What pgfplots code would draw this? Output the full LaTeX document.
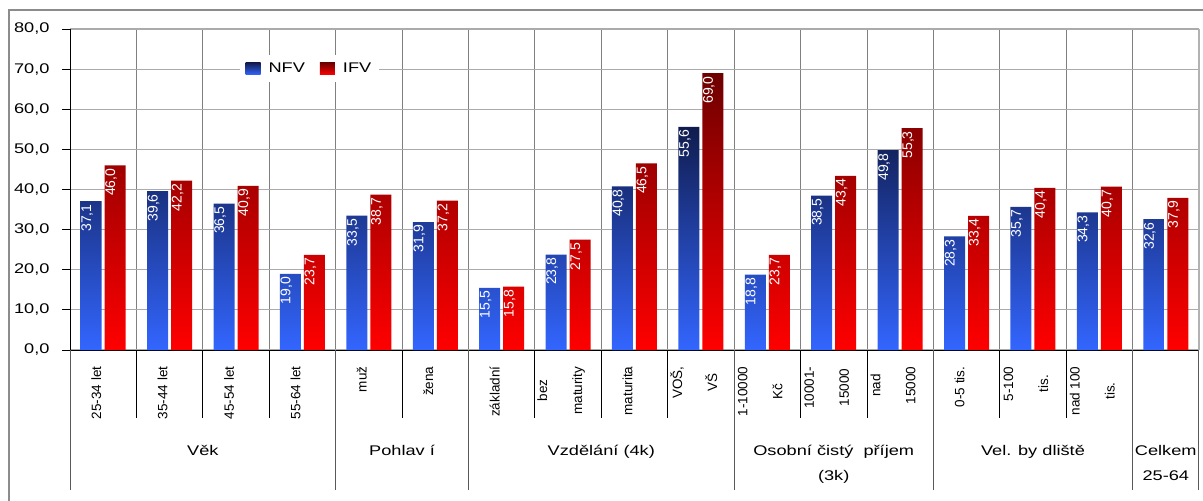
\documentclass[border=0pt]{standalone}
\usepackage{fontspec}
\setmainfont{Liberation Sans}
\newfontfamily\hfont[FakeStretch=1.3]{Liberation Sans}
\usepackage{graphicx}
\usepackage{pgfplots}
\pgfplotsset{compat=1.18}

\definecolor{nfvtop}{HTML}{101C4E}
\definecolor{nfvmid}{HTML}{2443AD}
\definecolor{nfvbot}{HTML}{3366FF}
\definecolor{ifvtop}{HTML}{6E0000}
\definecolor{ifvmid}{HTML}{B80000}
\definecolor{ifvbot}{HTML}{FF0000}

\begin{document}
\begin{tikzpicture}[x=1pt,y=1pt]
\path[use as bounding box] (0,0) rectangle (1203,501);
\begin{axis}[
  at={(70pt,151pt)}, anchor=south west,
  scale only axis, width=1129pt, height=321pt,
  xmin=0, xmax=17, ymin=0, ymax=80,
  clip=false,
  axis x line*=bottom, axis y line*=left,
  axis line style={black, line width=1pt},
  /pgf/number format/assume math mode=true,
  ytick={0,10,20,30,40,50,60,70,80},
  yticklabel={\hfont\fontsize{14}{16}\selectfont\pgfmathprintnumber[fixed,fixed zerofill,precision=1,use comma]{\tick}},
  yticklabel style={xshift=-9pt},
  xtick={0.5,1.5,2.5,3.5,4.5,5.5,6.5,7.5,8.5,9.5,10.5,11.5,12.5,13.5,14.5,15.5,16.5},
  xticklabels={{25-34 let},{35-44 let},{45-54 let},{55-64 let},{muž},{žena},{základní},{bez\\maturity},{maturita},{VOŠ,\\VŠ},{1-10000\\Kč},{10001-\\15000},{nad\\15000},{0-5 tis.},{5-100\\tis.},{nad 100\\tis.},{}},
  xticklabel style={font=\fontsize{13.5}{35}\selectfont, xshift=-7pt, rotate=90, anchor=east, align=center},
  xticklabel shift=5pt,
  minor xtick={1,2,...,16},
  xminorgrids, ymajorgrids,
  major grid style={color=black!33, line width=1.1pt},
  minor grid style={color=black!50, line width=0.8pt},
  tick align=outside, major tick length=8pt, minor tick length=0pt,
  xtick style={draw=none},
  ytick style={black, line width=0.8pt},
  legend style={at={(0.15,0.919)}, anchor=north west, draw=none, fill=white,
    font=\hfont\fontsize{14}{16}\selectfont, inner xsep=6pt, inner ysep=6pt,
    /tikz/every odd column/.append style={column sep=6pt},
    /tikz/every even column/.append style={column sep=13pt}},
  legend columns=2,
  nodes near coords={\rotatebox{90}{\pgfmathprintnumber[fixed,fixed zerofill,precision=1,use comma]{\pgfplotspointmeta}}},
  nodes near coords style={font=\fontsize{14}{16}\selectfont, text=white, anchor=north, inner sep=3pt},
]
\addplot[ybar, bar width=21pt, bar shift=-12pt, draw=none,
  top color=nfvtop, middle color=nfvmid, bottom color=nfvbot,
  nodes near coords style={xshift=-16pt},
  legend image code/.code={\path[top color=nfvtop, bottom color=nfvbot] (0pt,-6pt) rectangle (15pt,6pt);}]
  coordinates {
  (0.5,37.1) (1.5,39.6) (2.5,36.5) (3.5,19.0) (4.5,33.5) (5.5,31.9)
  (6.5,15.5) (7.5,23.8) (8.5,40.8) (9.5,55.6) (10.5,18.8) (11.5,38.5)
  (12.5,49.8) (13.5,28.3) (14.5,35.7) (15.5,34.3) (16.5,32.6)};
\addlegendentry{NFV}
\addplot[ybar, bar width=21pt, bar shift=12pt, draw=none,
  top color=ifvtop, middle color=ifvmid, bottom color=ifvbot,
  nodes near coords style={xshift=8pt},
  legend image code/.code={\path[top color=ifvtop, bottom color=ifvbot] (0pt,-6pt) rectangle (15pt,6pt);}]
  coordinates {
  (0.5,46.0) (1.5,42.2) (2.5,40.9) (3.5,23.7) (4.5,38.7) (5.5,37.2)
  (6.5,15.8) (7.5,27.5) (8.5,46.5) (9.5,69.0) (10.5,23.7) (11.5,43.4)
  (12.5,55.3) (13.5,33.4) (14.5,40.4) (15.5,40.7) (16.5,37.9)};
\addlegendentry{IFV}

% right border of the plot area
\draw[black!30, line width=1.5pt] (axis cs:17,0) -- (axis cs:17,80);
% separators below the axis
\pgfplotsinvokeforeach{1,2,3,5,7,8,9,11,12,14,15}{
  \draw[black, line width=0.8pt] (axis cs:#1,0) -- ++(0pt,-68pt);}
\pgfplotsinvokeforeach{0,4,6,10,13,16,17}{
  \draw[black!65, line width=1pt] (axis cs:#1,0) -- ++(0pt,-140pt);}
% group labels
\begin{scope}[every node/.style={font=\hfont\fontsize{14}{16}\selectfont, anchor=base, inner sep=0pt}]
\node[yshift=-105pt] at (axis cs:2,0) {Věk};
\node[yshift=-105pt] at (axis cs:5,0) {Pohlav í};
\node[yshift=-105pt] at (axis cs:8,0) {Vzdělání (4k)};
\node[yshift=-105pt] at (axis cs:11.5,0) {Osobní čistý\ \ příjem};
\node[yshift=-130pt] at (axis cs:11.5,0) {(3k)};
\node[yshift=-105pt] at (axis cs:14.5,0) {Vel. by dliště};
\node[yshift=-105pt] at (axis cs:16.5,0) {Celkem};
\node[yshift=-130pt] at (axis cs:16.5,0) {25-64};
\end{scope}
\end{axis}
% outer frame
\draw[black!45, line width=1.5pt] (9,0) -- (9,491) -- (1203,491);
\end{tikzpicture}
\end{document}
